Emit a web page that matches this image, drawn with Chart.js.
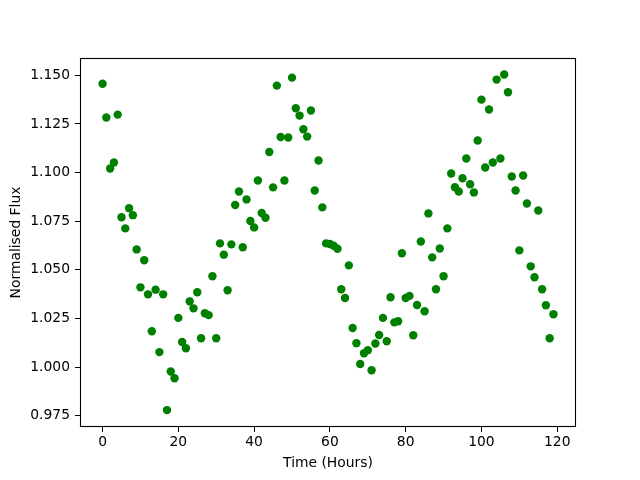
<!DOCTYPE html>
<html>
<head>
<meta charset="utf-8">
<script src="https://cdn.jsdelivr.net/npm/chart.js@4"></script>
<style>
    body { margin: 0; background: #fff; }
    canvas { display: block; }
</style>
</head>
<body>
<canvas id="plot" width="640" height="480"></canvas>
<script>
// values (one sample per hour)
var timeHours = [
    0, 1, 2, 3, 4, 5, 6, 7, 8, 9,
    10, 11, 12, 13, 14, 15, 16, 17, 18, 19,
    20, 21, 22, 23, 24, 25, 26, 27, 28, 29,
    30, 31, 32, 33, 34, 35, 36, 37, 38, 39,
    40, 41, 42, 43, 44, 45, 46, 47, 48, 49,
    50, 51, 52, 53, 54, 55, 56, 57, 58, 59,
    60, 61, 62, 63, 64, 65, 66, 67, 68, 69,
    70, 71, 72, 73, 74, 75, 76, 77, 78, 79,
    80, 81, 82, 83, 84, 85, 86, 87, 88, 89,
    90, 91, 92, 93, 94, 95, 96, 97, 98, 99,
    100, 101, 102, 103, 104, 105, 106, 107, 108, 109,
    110, 111, 112, 113, 114, 115, 116, 117, 118, 119
];

var flux = [
    1.1457, 1.1283, 1.1021, 1.1052, 1.1298, 1.0770, 1.0713, 1.0817, 1.0781, 1.0605,
    1.0410, 1.0549, 1.0374, 1.0184, 1.0398, 1.0077, 1.0374, 0.9779, 0.9977, 0.9943,
    1.0253, 1.0129, 1.0097, 1.0338, 1.0302, 1.0385, 1.0148, 1.0277, 1.0267, 1.0467,
    1.0148, 1.0636, 1.0578, 1.0395, 1.0631, 1.0833, 1.0903, 1.0616, 1.0862, 1.0751,
    1.0718, 1.0959, 1.0792, 1.0768, 1.1106, 1.0924, 1.1447, 1.1183, 1.0959, 1.1180,
    1.1488, 1.1331, 1.1293, 1.1223, 1.1185, 1.1319, 1.0908, 1.1062, 1.0821, 1.0636,
    1.0633, 1.0624, 1.0608, 1.0400, 1.0355, 1.0523, 1.0201, 1.0123, 1.0016, 1.0071,
    1.0087, 0.9984, 1.0121, 1.0165, 1.0253, 1.0133, 1.0359, 1.0230, 1.0236, 1.0585,
    1.0355, 1.0366, 1.0164, 1.0319, 1.0646, 1.0287, 1.0790, 1.0564, 1.0400, 1.0610,
    1.0467, 1.0713, 1.0995, 1.0925, 1.0903, 1.0971, 1.1072, 1.0940, 1.0898, 1.1165,
    1.1375, 1.1026, 1.1324, 1.1052, 1.1478, 1.1072, 1.1504, 1.1413, 1.0980, 1.0908,
    1.0600, 1.0985, 1.0841, 1.0518, 1.0462, 1.0805, 1.0400, 1.0318, 1.0148, 1.0272
];

var xTicks = [0, 20, 40, 60, 80, 100, 120];
var yTicks = [0.975, 1.000, 1.025, 1.050, 1.075, 1.100, 1.125, 1.150];

var points = timeHours.map(function(t, i) {
    return { x: t, y: flux[i] };
});

var FONT = { family: 'DejaVu Sans', size: 13.89 };

// matplotlib style box round the axes
var frame = {
    id: 'frame',
    afterDatasetsDraw: function(chart) {
	var a = chart.chartArea, ctx = chart.ctx;
	ctx.save();
	ctx.strokeStyle = '#000';
	ctx.lineWidth = 1.1;
	ctx.strokeRect(a.left + 0.5, a.top + 0.5, a.right - a.left - 1, a.bottom - a.top - 1);
	ctx.restore();
    }
};

Chart.defaults.color = '#000';
Chart.defaults.font.family = FONT.family;
Chart.defaults.font.size = FONT.size;

new Chart(document.getElementById('plot').getContext('2d'), {
    type: 'scatter',
    data: {
	datasets: [{
	    data: points,
	    backgroundColor: '#008000',
	    borderColor: '#008000',
	    borderWidth: 0,
	    pointRadius: 4.2,
	    pointHoverRadius: 4.2
	}]
    },
    options: {
	responsive: false,
	animation: false,
	events: [],
	layout: { padding: { left: 0, top: 58, right: 64, bottom: 0 } },
	plugins: { legend: { display: false }, tooltip: { enabled: false } },
	scales: {
	    x: {
		type: 'linear',
		min: -5.95,
		max: 124.95,
		border: { display: false },
		grid: { drawOnChartArea: false, drawTicks: true, tickLength: 5, color: '#000' },
		ticks: { padding: 2, font: FONT, color: '#000', maxRotation: 0 },
		title: { display: true, text: 'Time (Hours)', font: FONT, color: '#000', padding: { top: 0, bottom: 8.7 } },
		afterBuildTicks: function(scale) {
		    scale.ticks = xTicks.map(function(v) { return { value: v }; });
		},
		afterFit: function(scale) { scale.height = 53; }
	    },
	    y: {
		type: 'linear',
		min: 0.9692,
		max: 1.1589,
		border: { display: false },
		grid: { drawOnChartArea: false, drawTicks: true, tickLength: 5, color: '#000' },
		ticks: {
		    padding: 5, font: FONT, color: '#000',
		    callback: function(v) { return v.toFixed(3); }
		},
		title: { display: true, text: 'Normalised Flux', font: FONT, color: '#000', padding: { top: 8, bottom: 0 } },
		afterBuildTicks: function(scale) {
		    scale.ticks = yTicks.map(function(v) { return { value: v }; });
		},
		afterFit: function(scale) { scale.width = 80; }
	    }
	}
    },
    plugins: [frame]
});
</script>
</body>
</html>
